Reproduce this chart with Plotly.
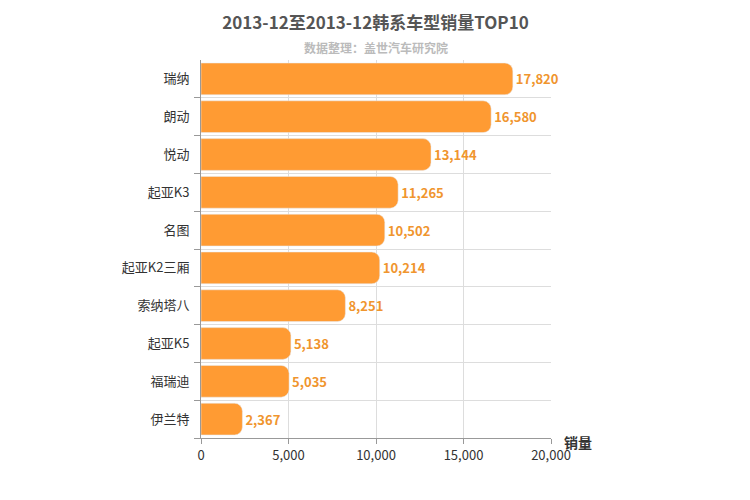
import plotly.graph_objects as go

models = ["瑞纳", "朗动", "悦动", "起亚K3", "名图", "起亚K2三厢", "索纳塔八", "起亚K5", "福瑞迪", "伊兰特"]
sales = [17820, 16580, 13144, 11265, 10502, 10214, 8251, 5138, 5035, 2367]

pos = list(range(len(models)))[::-1]

fig = go.Figure(go.Bar(
    x=sales, y=pos, orientation="h",
    marker=dict(color="#ff9b33", cornerradius=8),
    text=[f"<b>{v:,}</b>" for v in sales], textposition="outside",
    textfont=dict(color="#f0952e", size=13, family="Noto Sans CJK SC"),
    cliponaxis=False,
))

# page body adds ~8px offset, so shift margins to compensate
fig.update_layout(
    width=750, height=500,
    margin=dict(l=193, r=207, t=52, b=70, autoexpand=False),
    plot_bgcolor="white", paper_bgcolor="white",
    bargap=0.16, showlegend=False,
    font=dict(family="Noto Sans CJK SC", color="#333", size=13),
    title=dict(text="<b>2013-12至2013-12韩系车型销量TOP10</b>", x=0.49, y=0.97,
               xanchor="center", yanchor="middle", font=dict(size=17, color="#555")),
    annotations=[
        dict(text="<b>数据整理：盖世汽车研究院</b>", x=0.5, y=1.06, xref="paper", yref="paper",
             showarrow=False, font=dict(size=12, color="#bbb")),
        dict(text="<b>销量</b>", x=1.03, y=-0.01, xref="paper", yref="paper", xanchor="left",
             yanchor="top", yshift=12, showarrow=False, font=dict(size=14, color="#333")),
    ],
)
fig.update_xaxes(range=[0, 20000], tickvals=[0, 5000, 10000, 15000, 20000],
                 tickformat=",", showgrid=True, gridcolor="#ddd", zeroline=False,
                 showline=True, linecolor="#999", ticks="outside", tickcolor="#999",
                 tickfont=dict(color="#333"), automargin=False)
fig.update_yaxes(range=[-0.5, len(models) - 0.5], tickvals=pos, ticktext=models,
                 showgrid=False, zeroline=False, showline=True, linecolor="#999",
                 ticks="", ticklabelstandoff=8, automargin=False,
                 minor=dict(tickvals=[p - 0.5 for p in pos], showgrid=True, gridcolor="#ddd",
                            ticks="outside", ticklen=6, tickcolor="#999"))

fig.write_html("out.html")
